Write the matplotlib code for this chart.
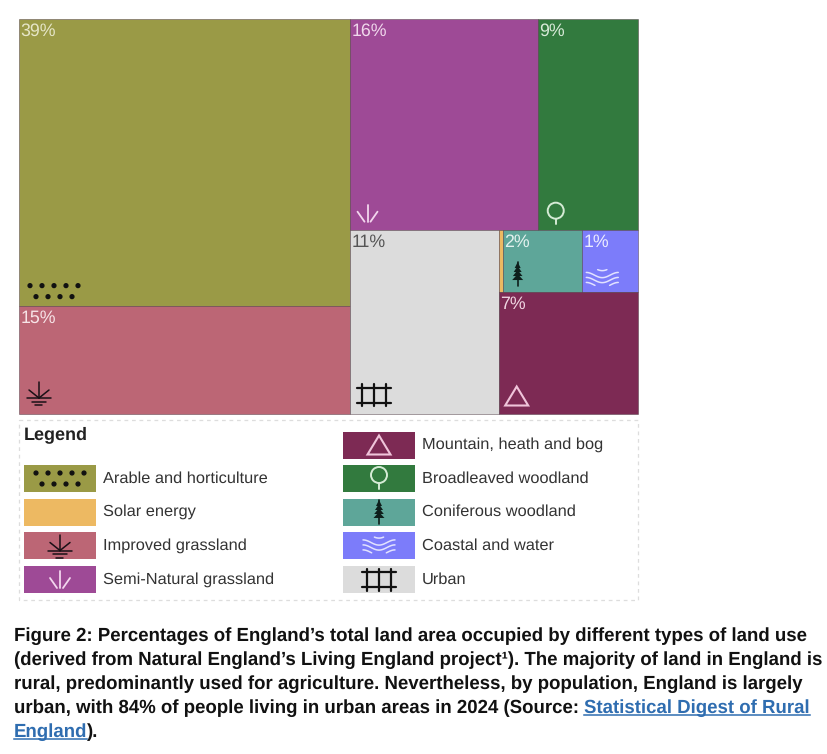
"""Treemap of England land use, with icon legend and caption."""

import matplotlib
matplotlib.use("Agg")
import matplotlib.pyplot as plt
import numpy as np
from matplotlib.patches import Circle, Polygon, Rectangle

plt.rcParams["font.family"] = ["Liberation Sans", "DejaVu Sans"]
plt.rcParams["text.hinting"] = "no_hinting"

# ── data ─────────────────────────────────────────────────────────────────────

categories = ["Arable and horticulture", "Solar energy", "Improved grassland",
              "Semi-Natural grassland", "Mountain, heath and bog",
              "Broadleaved woodland", "Coniferous woodland",
              "Coastal and water", "Urban"]
shares = [38.6, 0.1, 14.5, 16.1, 6.9, 8.6, 2.0, 1.4, 11.1]
pct_labels = ["39%", "", "15%", "16%", "7%", "9%", "2%", "1%", "11%"]
colors = ["#9A9A46", "#EDB962", "#BC6675", "#9E4A96", "#7D2A54",
          "#327A3E", "#5EA699", "#7C7CFA", "#DCDCDC"]
icons = ["dots", None, "improved", "semi", "mountain",
         "broadleaf", "conifer", "coastal", "urban"]
icon_colors = ["#111111", None, "#1A1016", "#F3D6EE", "#F0C4DA",
               "#D5EBD5", "#0E1F1C", "#E2E2FF", "#111111"]
label_colors = ["#E6E6C8", None, "#F7E4E7", "#F0D8EC", "#F0D5E2",
                "#D8EAD8", "#E4F2EF", "#ECECFF", "#555555"]

# nesting of the treemap: "h" splits left to right, "v" top to bottom
tree = ["h", ["v", 0, 2],
        ["v", ["h", 3, 5],
         ["h", 8, ["v", ["h", 1, 6, 7], 4]]]]

caption_lines = [
    "Figure 2: Percentages of England’s total land area occupied by different types of land use",
    "(derived from Natural England’s Living England project¹). The majority of land in England is",
    "rural, predominantly used for agriculture. Nevertheless, by population, England is largely",
]
caption_last = "urban, with 84% of people living in urban areas in 2024 (Source: "
link_1 = "Statistical Digest of Rural"
link_2 = "England"
LINK = "#2F6DB0"

# ── helpers ──────────────────────────────────────────────────────────────────

def total(node):
    if isinstance(node, int):
        return shares[node]
    return sum(total(n) for n in node[1:])


def layout(node, x, y, w, h, out):
    """Slice-and-dice the box in proportion to the shares."""
    if isinstance(node, int):
        out[node] = (x, y, w, h)
        return
    t = total(node)
    for child in node[1:]:
        f = total(child) / t
        if node[0] == "h":
            layout(child, x, y, w * f, h, out)
            x += w * f
        else:
            layout(child, x, y, w, h * f, out)
            y += h * f


def draw_icon(ax, kind, cx, cy, c):
    """cx, cy is the icon centre, in figure pixels."""
    def ln(xs, ys, lw=1.5):
        ax.plot(np.array(xs) + cx, np.array(ys) + cy, color=c, lw=lw,
                solid_capstyle="round", zorder=4)

    if kind == "dots":
        for dx in [-24, -12, 0, 12, 24]:
            ax.add_patch(Circle((cx + dx, cy - 5.5), 1.9, color=c, zorder=4))
        for dx in [-18, -6, 6, 18]:
            ax.add_patch(Circle((cx + dx, cy + 5.5), 1.9, color=c, zorder=4))
    elif kind == "improved":
        ln([0, 0], [-11, 5], 1.1)
        ln([-10, 0], [-3, 5], 1.1)
        ln([10, 0], [-3, 5], 1.1)
        ln([-12, 12], [5, 5], 1.1)
        ln([-7, 7], [8.5, 8.5], 1.1)
        ln([-3.5, 3.5], [12, 12], 1.1)
    elif kind == "semi":
        ln([0, 0], [-8.5, 8.5], 1.3)
        ln([-10, -3], [-1.5, 8.5], 1.3)
        ln([10, 3], [-1.5, 8.5], 1.3)
    elif kind == "mountain":
        ax.add_patch(Polygon([(cx, cy - 9.5), (cx + 11.5, cy + 9.5), (cx - 11.5, cy + 9.5)],
                             fill=False, ec=c, lw=1.5, zorder=4))
    elif kind == "broadleaf":
        ax.add_patch(Circle((cx, cy - 3.5), 8, fill=False, ec=c, lw=1.4, zorder=4))
        ln([0, 0], [4.5, 10], 1.4)
    elif kind == "conifer":
        ln([0, 0], [-12, 12], 1.2)
        for top, half in [(-12, 3), (-8, 4), (-4, 4.8), (0, 5.5)]:
            ax.add_patch(Polygon([(cx, cy + top), (cx + half, cy + top + 6),
                                  (cx - half, cy + top + 6)], color=c, lw=0, zorder=4))
    elif kind == "coastal":
        xs = np.linspace(-16, 16, 60)
        wave = 2.6 * np.cos(xs * np.pi / 16)
        ln(xs, wave - 3, 1.1)
        ln(xs, wave + 2, 1.1)
        mask = np.abs(xs) > 7
        ln(xs[mask & (xs < 0)], wave[mask & (xs < 0)] + 7, 1.1)
        ln(xs[mask & (xs > 0)], wave[mask & (xs > 0)] + 7, 1.1)
        mask = np.abs(xs) < 5
        ln(xs[mask], wave[mask] - 10, 1.1)
    elif kind == "urban":
        for dx in [-12, 0, 12.5]:
            ln([dx, dx], [-11, 11], 1.6)
        for dy in [-7.5, 7.5]:
            ln([-17, 17], [dy, dy], 1.6)


# ── figure ───────────────────────────────────────────────────────────────────

fig = plt.figure(figsize=(8.28, 7.54), dpi=100)
ax = fig.add_axes([0, 0, 1, 1])
ax.set_xlim(0, 828)
ax.set_ylim(754, 0)
ax.axis("off")

# treemap
boxes = {}
layout(tree, 19, 19, 619, 395, boxes)
icon_spots = {0: (35, -15), 2: (20, -21), 3: (17.5, -17), 4: (18, -18),
              5: (18, -16), 6: (15, -18), 7: (20, -14), 8: (23.5, -19)}
for i, (x, y, w, h) in boxes.items():
    ax.add_patch(Rectangle((x, y), w, h, fc=colors[i], ec=(0.3, 0.22, 0.26, 0.55),
                           lw=0.6, zorder=2))
    if pct_labels[i]:
        ax.text(x + 1.5, y + 12.5, pct_labels[i], color=label_colors[i],
                fontsize=12.8, va="center", ha="left", zorder=5)
    if icons[i]:
        dx, dy = icon_spots[i]
        draw_icon(ax, icons[i], x + dx, y + h + dy, icon_colors[i])

# legend
ax.add_patch(Rectangle((19, 420), 619, 180, fill=False, ec="#DDDDDD", lw=0.9,
                       ls=(0, (3, 3)), zorder=1))
ax.text(24, 435, "Legend", fontsize=13, fontweight="bold", color="#222222",
        va="center", ha="left")
left_rows = [478.5, 512, 545.5, 579.5]
right_rows = [445, 478.5, 512, 545.5, 579.5]
slots = [(24, r) for r in left_rows] + [(343, r) for r in right_rows]
for i, (sx, sy) in enumerate(slots):
    ax.add_patch(Rectangle((sx, sy - 13.5), 72, 27, fc=colors[i], ec="none", zorder=2))
    if icons[i]:
        draw_icon(ax, icons[i], sx + 36, sy, icon_colors[i])
    ax.text(sx + 79, sy, categories[i], fontsize=11.75, color="#333333",
            va="center", ha="left")

# caption
cap = dict(fontsize=13.38, fontweight="bold", va="baseline", ha="left")
for line, base in zip(caption_lines, [640.5, 664.5, 688.5]):
    ax.text(14, base, line, color="#111111", **cap)

renderer = fig.canvas.get_renderer()
t_last = ax.text(14, 713, caption_last, color="#111111", **cap)
x_link = t_last.get_window_extent(renderer).x1
t_link = ax.text(x_link, 713, link_1, color=LINK, **cap)
x_end = t_link.get_window_extent(renderer).x1
ax.plot([x_link, x_end], [715, 715], color=LINK, lw=1.1)

t_eng = ax.text(14, 737, link_2, color=LINK, **cap)
x_eng = t_eng.get_window_extent(renderer).x1
ax.plot([14, x_eng], [739, 739], color=LINK, lw=1.1)
ax.text(x_eng, 737, ").", color="#111111", **cap)

fig.savefig("out.png", dpi=100, facecolor="white")
plt.close(fig)
